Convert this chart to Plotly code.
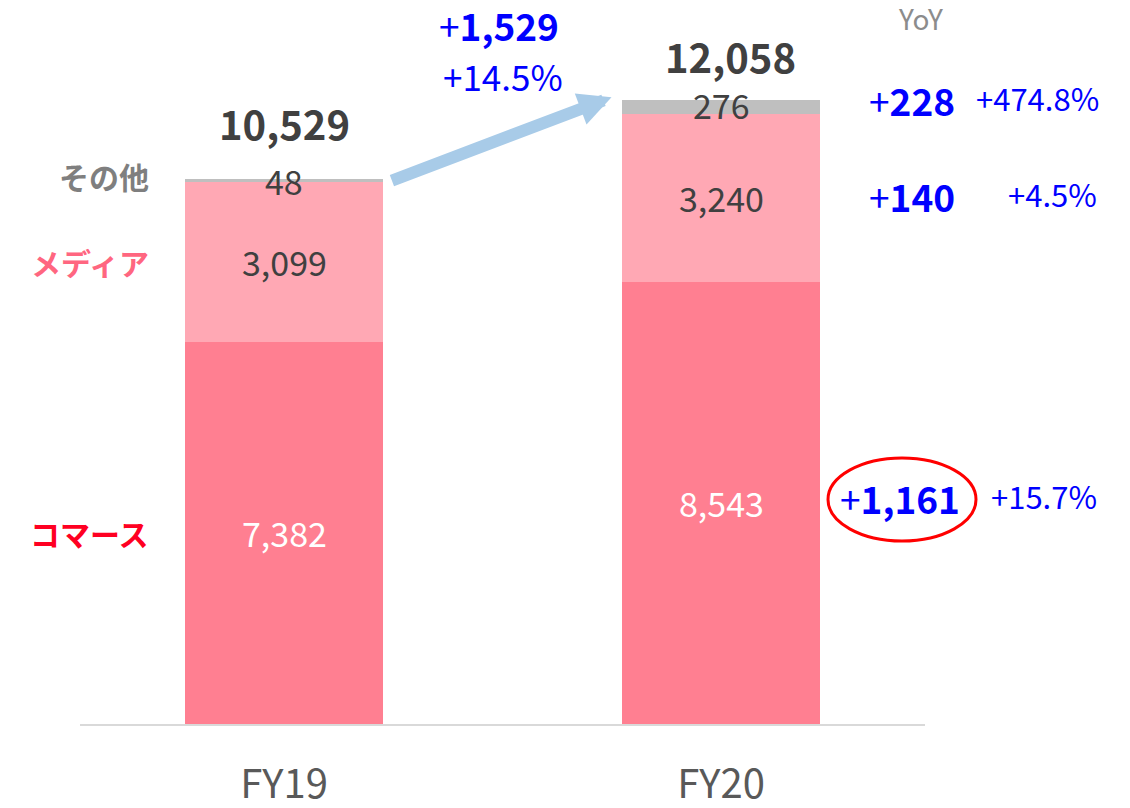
import plotly.graph_objects as go

# ---- data ----
years = ["FY19", "FY20"]
commerce = [7382, 8543]
media = [3099, 3240]
other = [48, 276]
totals = [10529, 12058]
segment_names = ["コマース", "メディア", "その他"]
growth_total = "+1,529"
growth_total_pct = "+14.5%"
yoy_abs = ["+1,161", "+140", "+228"]   # commerce, media, other
yoy_pct = ["+15.7%", "+4.5%", "+474.8%"]

FONT = "Noto Sans CJK JP"
C_COM = "#FF7F91"
C_MED = "#FFA8B4"
C_OTH = "#BFBFBF"
DARK = "#404040"
BLUE = "#0000FF"

O = 8  # page body margin offset
W, H = 1130 - O, 808 - O
ML, MR, MT, MB = 80 - O, 205, 0, 84
PW, PH = W - ML - MR, H - MT - MB
UNITS_PER_PX = 19.32
xr = [-0.4668, 1.4668]
yr = [0, PH * UNITS_PER_PX]
BARW = 0.453


def X(px):  # reference pixel -> data x
    return xr[0] + (px - O - ML) / PW * (xr[1] - xr[0])


def PX(px):  # reference pixel -> paper x
    return (px - O - ML) / PW


def Y(py):  # reference pixel -> data y
    return yr[0] + (H - MB - (py - O)) / PH * (yr[1] - yr[0])


xs = [0, 1]
fig = go.Figure()
for vals, col, name in [(commerce, C_COM, segment_names[0]),
                        (media, C_MED, segment_names[1]),
                        (other, C_OTH, segment_names[2])]:
    fig.add_trace(go.Bar(x=xs, y=vals, width=BARW, marker=dict(color=col, line=dict(width=0)),
                         name=name, hoverinfo="skip"))

ann = []
# segment value labels
for i in range(2):
    c, m, o = commerce[i], media[i], other[i]
    ann.append(dict(x=xs[i], y=c / 2, text=f"{c:,}", font=dict(size=34, color="white", family=FONT)))
    ann.append(dict(x=xs[i], y=c + m / 2, text=f"{m:,}", font=dict(size=34, color=DARK, family=FONT)))
    ann.append(dict(x=xs[i], y=c + m + o / 2, text=f"{o:,}", font=dict(size=34, color=DARK, family=FONT),
                    yshift=2 if i == 1 else 0))
# totals
ann.append(dict(x=xs[0], y=totals[0], text=f"<b>{totals[0]:,}</b>", yshift=56,
                font=dict(size=40, color=DARK, family=FONT)))
ann.append(dict(x=xs[1] + 0.021, y=totals[1], text=f"<b>{totals[1]:,}</b>", yshift=44,
                font=dict(size=40, color=DARK, family=FONT)))
# left category labels
ann.append(dict(x=X(151), y=commerce[0] + media[0] + other[0] / 2, text="<b>その他</b>", xanchor="right",
                yshift=4, font=dict(size=30, color="#7F7F7F", family=FONT)))
ann.append(dict(x=X(151), y=commerce[0] + media[0] / 2, text="<b>メディア</b>", xanchor="right",
                font=dict(size=30, color="#FF6680", family=FONT)))
ann.append(dict(x=X(151), y=commerce[0] / 2, text="<b>コマース</b>", xanchor="right",
                font=dict(size=30, color="#FF0022", family=FONT)))
# total growth
ann.append(dict(x=X(499), y=Y(25), text=f"+<b>{growth_total[1:]}</b>", font=dict(size=37, color=BLUE, family=FONT)))
ann.append(dict(x=X(503), y=Y(75), text=growth_total_pct, font=dict(size=35, color=BLUE, family=FONT)))
# YoY header
ann.append(dict(x=PX(920), xref="paper", y=Y(18), text="YoY", font=dict(size=28, color="#8C8C8C", family=FONT)))
# YoY per segment
seg_y = [commerce[1] / 2, commerce[1] + media[1] / 2, totals[1]]
seg_shift = [5, 2, 0]
abs_px = [900, 912, 912]
pct_px = [1044, 1052, 1037]
for k in range(3):
    ann.append(dict(x=PX(abs_px[k]), xref="paper", y=seg_y[k], yshift=seg_shift[k],
                    text=f"+<b>{yoy_abs[k][1:]}</b>", font=dict(size=37, color=BLUE, family=FONT)))
    ann.append(dict(x=PX(pct_px[k]), xref="paper", y=seg_y[k], yshift=seg_shift[k] + 2,
                    text=yoy_pct[k], font=dict(size=31, color=BLUE, family=FONT)))

for a in ann:
    a.setdefault("xref", "x")
    a.setdefault("yref", "y")
    a.setdefault("showarrow", False)
    a.setdefault("yanchor", "middle")
    a.setdefault("xanchor", "center")

# growth arrow from FY19 top to FY20 top
ann.append(dict(x=xs[1] - BARW / 2 - 0.024, y=totals[1] + 50, xref="x", yref="y",
                ax=xs[0] + BARW / 2 + 0.017, ay=totals[0] - 40, axref="x", ayref="y",
                showarrow=True, arrowhead=2, arrowsize=0.55, arrowwidth=12, arrowcolor="#A8CBE8", text=""))

shapes = [dict(type="circle", xref="paper", yref="y", x0=PX(828), x1=PX(976), y0=Y(541), y1=Y(458),
               line=dict(color="#FF0000", width=3))]

fig.update_layout(
    width=W, height=H, barmode="stack", showlegend=False,
    margin=dict(l=ML, r=MR, t=MT, b=MB, autoexpand=False),
    paper_bgcolor="white", plot_bgcolor="white",
    annotations=ann, shapes=shapes,
    xaxis=dict(range=xr, tickvals=xs, ticktext=years, showgrid=False, zeroline=False,
               showline=True, linecolor="#D9D9D9", linewidth=2, ticks="", ticklabelstandoff=24,
               tickfont=dict(size=40, color="#595959", family=FONT), fixedrange=True),
    yaxis=dict(range=yr, showgrid=False, zeroline=False, showticklabels=False, showline=False,
               fixedrange=True),
    font=dict(family=FONT),
)
fig.write_html("out.html")
